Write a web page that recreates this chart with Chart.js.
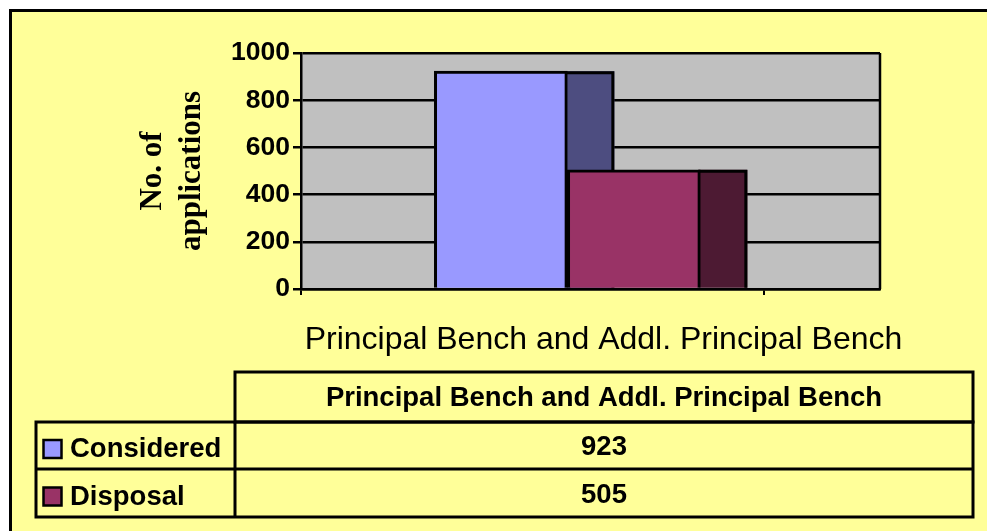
<!DOCTYPE html>
<html>
<head>
<meta charset="utf-8">
<title>Applications considered and disposed</title>
<script src="https://cdn.jsdelivr.net/npm/chart.js@4.4.1/dist/chart.umd.min.js"></script>
<style>
  html, body { margin: 0; padding: 0; background: #fff; }
  canvas { display: block; }
</style>
</head>
<body>
<canvas id="myChart" width="987" height="531"></canvas>
<script>
const categories = ['Principal Bench and Addl. Principal Bench'];
const seriesNames = ['Considered', 'Disposal'];
const considered = [923];
const disposal = [505];
const yTicks = [0, 200, 400, 600, 800, 1000];

const frontColors = ['#9999FF', '#993366'];
const sideColors = ['#4D4D80', '#4D1A33'];
const seriesValues = [considered, disposal];

Chart.defaults.font.family = "'Liberation Sans', Arial, sans-serif";
Chart.defaults.color = '#000';

// yellow frame + grey plot wall
const background = {
  id: 'background',
  beforeDraw(chart) {
    const { ctx, chartArea: a } = chart;
    ctx.save();
    ctx.fillStyle = '#fff';
    ctx.fillRect(0, 0, chart.width, chart.height);
    ctx.fillStyle = '#FFFF99';
    ctx.fillRect(9, 9, chart.width - 9, chart.height - 9);
    ctx.strokeStyle = '#000';
    ctx.lineWidth = 3;
    ctx.beginPath();
    ctx.moveTo(10.5, chart.height);
    ctx.lineTo(10.5, 10.5);
    ctx.lineTo(chart.width, 10.5);
    ctx.stroke();
    ctx.fillStyle = '#C0C0C0';
    ctx.fillRect(a.left, a.top, a.right - a.left, a.bottom - a.top);
    ctx.lineWidth = 2.5;
    ctx.beginPath();
    ctx.moveTo(a.right, a.top);
    ctx.lineTo(a.right, a.bottom);
    ctx.stroke();
    ctx.restore();
  }
};

// dark side faces of the 3D bars, drawn behind the fronts
const sideFaces = {
  id: 'sideFaces',
  beforeDatasetsDraw(chart) {
    const ctx = chart.ctx;
    const depth = 47;
    ctx.save();
    chart.data.datasets.forEach((ds, i) => {
      chart.getDatasetMeta(i).data.forEach(bar => {
        const p = bar.getProps(['x', 'y', 'base', 'width'], true);
        const x0 = p.x + p.width / 2;
        ctx.fillStyle = sideColors[i];
        ctx.fillRect(x0 - 2, p.y, depth + 2, p.base - p.y);
        ctx.strokeStyle = '#000';
        ctx.lineWidth = 3;
        ctx.beginPath();
        ctx.moveTo(x0 - 2, p.y + 1.5);
        ctx.lineTo(x0 + depth - 1.5, p.y + 1.5);
        ctx.lineTo(x0 + depth - 1.5, p.base);
        ctx.stroke();
      });
    });
    ctx.restore();
  }
};

// category name under the axis and the data table below it
const dataTable = {
  id: 'dataTable',
  afterDraw(chart) {
    const { ctx, chartArea: a } = chart;
    ctx.save();
    ctx.fillStyle = '#000';
    ctx.textBaseline = 'middle';
    ctx.textAlign = 'center';
    ctx.font = "32px 'Liberation Sans', Arial, sans-serif";
    ctx.fillText(categories[0], (a.left + a.right) / 2 + 13, a.bottom + 51);

    const left = 36, split = 235, right = 973;
    const rows = [372, 422, 469, 517];
    ctx.strokeStyle = '#000';
    ctx.lineWidth = 3;
    ctx.strokeRect(split, rows[0], right - split, rows[1] - rows[0]);
    ctx.strokeRect(left, rows[1], right - left, rows[3] - rows[1]);
    ctx.beginPath();
    ctx.moveTo(left, rows[2]);
    ctx.lineTo(right, rows[2]);
    ctx.moveTo(split, rows[1]);
    ctx.lineTo(split, rows[3]);
    ctx.stroke();

    ctx.font = "bold 27.5px 'Liberation Sans', Arial, sans-serif";
    const mid = (split + right) / 2;
    ctx.fillText(categories[0], mid, (rows[0] + rows[1]) / 2 + 1);

    seriesNames.forEach((name, i) => {
      const cy = (rows[i + 1] + rows[i + 2]) / 2 + 4;
      ctx.fillStyle = frontColors[i];
      ctx.fillRect(43.5, cy - 9.5, 18, 18);
      ctx.lineWidth = 2.5;
      ctx.strokeRect(43.5, cy - 9.5, 18, 18);
      ctx.fillStyle = '#000';
      ctx.textAlign = 'left';
      ctx.fillText(name, 70, cy);
      ctx.textAlign = 'center';
      ctx.fillText(String(seriesValues[i][0]), mid, cy - 2);
    });
    ctx.restore();
  }
};

new Chart(document.getElementById('myChart'), {
  type: 'bar',
  data: {
    labels: categories,
    datasets: seriesNames.map((name, i) => ({
      label: name,
      data: seriesValues[i].map((v, k) => ({ x: k, y: v })),
      backgroundColor: frontColors[i],
      borderColor: '#000',
      borderWidth: 3,
      barThickness: 133
    }))
  },
  options: {
    responsive: false,
    animation: false,
    layout: {
      padding: { left: 124, right: 107, top: 53, bottom: 162 }
    },
    plugins: {
      legend: { display: false },
      tooltip: { enabled: false }
    },
    scales: {
      x: {
        type: 'linear',
        offset: false,
        min: -0.46,
        max: 0.54,
        afterBuildTicks: (scale) => {
          scale.ticks = [{ value: scale.min }, { value: 0.34 }];
        },
        afterFit: (scale) => { scale.height = 80; },
        ticks: { display: false },
        grid: {
          offset: false,
          drawOnChartArea: false,
          drawTicks: true,
          tickLength: 6,
          color: '#000',
          lineWidth: 2
        },
        border: { display: true, color: '#000', width: 2.5 }
      },
      y: {
        min: 0,
        max: 1000,
        afterBuildTicks: (scale) => {
          scale.ticks = yTicks.map(v => ({ value: v }));
        },
        afterFit: (scale) => { scale.width = 177; },
        ticks: {
          color: '#000',
          padding: 3,
          font: { size: 26.5, weight: 'bold' },
          callback: (v) => String(v)
        },
        grid: {
          color: '#000',
          lineWidth: 2.5,
          tickLength: 8
        },
        border: { display: true, color: '#000', width: 2.5 },
        title: {
          display: true,
          text: ['No. of', 'applications'],
          color: '#000',
          font: {
            size: 31,
            weight: 'bold',
            lineHeight: 1.25,
            family: "'Liberation Serif', 'Times New Roman', serif"
          },
          padding: { top: 10, bottom: 0 }
        }
      }
    }
  },
  plugins: [background, sideFaces, dataTable]
});
</script>
</body>
</html>
